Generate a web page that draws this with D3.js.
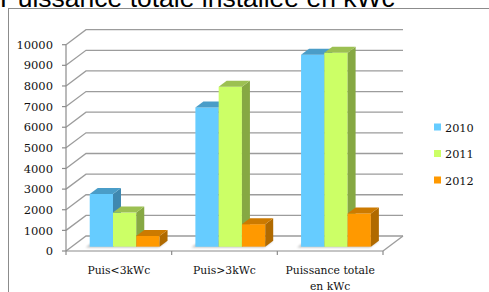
<!DOCTYPE html>
<html>
<head>
<meta charset="utf-8">
<script src="https://cdn.jsdelivr.net/npm/d3@7.9.0/dist/d3.min.js"></script>
<style>
  html, body { margin: 0; padding: 0; background: #fff; }
  svg { display: block; }
  .tick-label, .cat-label, .legend-label { font-family: 'DejaVu Serif', serif; fill: #111; }
</style>
</head>
<body>
<svg id="chart" width="489" height="292"></svg>
<script>
const categories = ['Puis<3kWc', 'Puis>3kWc', 'Puissance totale en kWc'];
const series = ['2010', '2011', '2012'];
const values2010 = [2550, 6750, 9300];
const values2011 = [1650, 7750, 9400];
const values2012 = [520, 1090, 1610];
const yTicks = [0, 1000, 2000, 3000, 4000, 5000, 6000, 7000, 8000, 9000, 10000];

const seriesValues = { '2010': values2010, '2011': values2011, '2012': values2012 };
const colors = {
  '2010': { front: '#66ccff', top: '#4a9dc8', side: '#3f88b0' },
  '2011': { front: '#ccff66', top: '#9cc052', side: '#86a843' },
  '2012': { front: '#ff9900', top: '#cc7a00', side: '#b06a00' }
};

const svg = d3.select('#chart');

// depth of the 3d box in screen pixels
const DX = 20, DY = 15;
const z0 = 0.29, z1 = 0.69;

const y = d3.scaleLinear().domain([0, 10000]).range([251, 44.7]);
const x0 = d3.scaleBand().domain(categories).range([66, 383]);
const x1 = d3.scaleBand().domain(series).range([0, x0.bandwidth()]).paddingOuter(0.77).paddingInner(0);

const proj = (x, v, z) => [x + z * DX, y(v) - z * DY];
const pts = (arr) => arr.map((p) => p.join(',')).join(' ');

// title (cut off at the top)
svg.append('text')
  .attr('x', 0).attr('y', 7)
  .style('font-family', "'Liberation Sans', Arial, sans-serif")
  .style('font-size', '26.5px')
  .attr('fill', '#000')
  .text('Puissance totale installée en kWc');

// chart frame
svg.append('rect')
  .attr('x', 8.5).attr('y', 8.5)
  .attr('width', 600).attr('height', 400)
  .attr('fill', 'none').attr('stroke', '#8c8c8c');

// back wall gridlines
const grid = svg.append('g').attr('fill', 'none').attr('stroke', '#9c9c9c').attr('stroke-width', 1.3);
yTicks.forEach((t) => {
  grid.append('polyline')
    .attr('points', pts([proj(66, t, 0), proj(66, t, 1), proj(383, t, 1)]));
});

// floor right edge
grid.append('line')
  .attr('x1', 383).attr('y1', y(0)).attr('x2', 383 + DX).attr('y2', y(0) - DY);

// shadow filter
const defs = svg.append('defs');
defs.append('filter').attr('id', 'blur')
  .attr('x', '-20%').attr('y', '-50%').attr('width', '140%').attr('height', '200%')
  .append('feGaussianBlur').attr('stdDeviation', 1.2);

// bars
const bars = svg.append('g');
categories.forEach((cat, ci) => {
  const gx = x0(cat);
  const left = gx + x1(series[0]);
  const right = gx + x1(series[series.length - 1]) + x1.bandwidth();
  bars.append('polygon')
    .attr('points', pts([proj(left - 3, 0, z0 - 0.05), proj(right, 0, z0 - 0.05), proj(right, 0, z1), proj(left - 3, 0, z1)]))
    .attr('fill', '#000').attr('opacity', 0.25).attr('filter', 'url(#blur)');

  series.forEach((s) => {
    const v = seriesValues[s][ci];
    const xa = gx + x1(s);
    const xb = xa + x1.bandwidth();
    const c = colors[s];
    const g = bars.append('g');
    g.append('polygon')
      .attr('points', pts([proj(xa, 0, z0), proj(xb, 0, z0), proj(xb, v, z0), proj(xa, v, z0)]))
      .attr('fill', c.front);
    g.append('polygon')
      .attr('points', pts([proj(xb, 0, z0), proj(xb, 0, z1), proj(xb, v, z1), proj(xb, v, z0)]))
      .attr('fill', c.side);
    g.append('polygon')
      .attr('points', pts([proj(xa, v, z0), proj(xb, v, z0), proj(xb, v, z1), proj(xa, v, z1)]))
      .attr('fill', c.top);
  });
});

// y axis
const axis = svg.append('g').attr('stroke', '#8c8c8c').attr('stroke-width', 1.2);
axis.append('line')
  .attr('x1', 66).attr('x2', 66).attr('y1', y(0)).attr('y2', y(10000));
yTicks.forEach((t) => {
  axis.append('line').attr('x1', 62).attr('x2', 66).attr('y1', y(t)).attr('y2', y(t));
});
svg.append('g').selectAll('text')
  .data(yTicks)
  .join('text')
  .attr('class', 'tick-label')
  .attr('x', 53).attr('y', (d) => y(d)).attr('dy', '0.36em')
  .attr('text-anchor', 'end')
  .style('font-size', '11.5px')
  .text((d) => d);

// x axis
axis.append('line')
  .attr('x1', 66).attr('x2', 383).attr('y1', y(0)).attr('y2', y(0));
const bounds = categories.map((c) => x0(c)).concat([383]);
bounds.forEach((bx) => {
  axis.append('line').attr('x1', bx).attr('x2', bx).attr('y1', y(0)).attr('y2', y(0) + 4);
});

const catLines = [['Puis<3kWc'], ['Puis>3kWc'], ['Puissance totale', 'en kWc']];
categories.forEach((cat, ci) => {
  const t = svg.append('text')
    .attr('class', 'cat-label')
    .attr('x', x0(cat) + x0.bandwidth() / 2)
    .attr('y', 274)
    .attr('text-anchor', 'middle')
    .style('font-size', '10.8px');
  catLines[ci].forEach((line, li) => {
    t.append('tspan')
      .attr('x', x0(cat) + x0.bandwidth() / 2)
      .attr('dy', li === 0 ? 0 : 15.5)
      .text(line);
  });
});

// legend
const legend = svg.append('g').attr('transform', 'translate(434,123.5)');
series.forEach((s, i) => {
  legend.append('rect')
    .attr('x', 0).attr('y', i * 26.5)
    .attr('width', 7).attr('height', 7)
    .attr('fill', colors[s].front);
  legend.append('text')
    .attr('class', 'legend-label')
    .attr('x', 11).attr('y', i * 26.5 + 8)
    .style('font-size', '11.3px')
    .text(s);
});
</script>
</body>
</html>
